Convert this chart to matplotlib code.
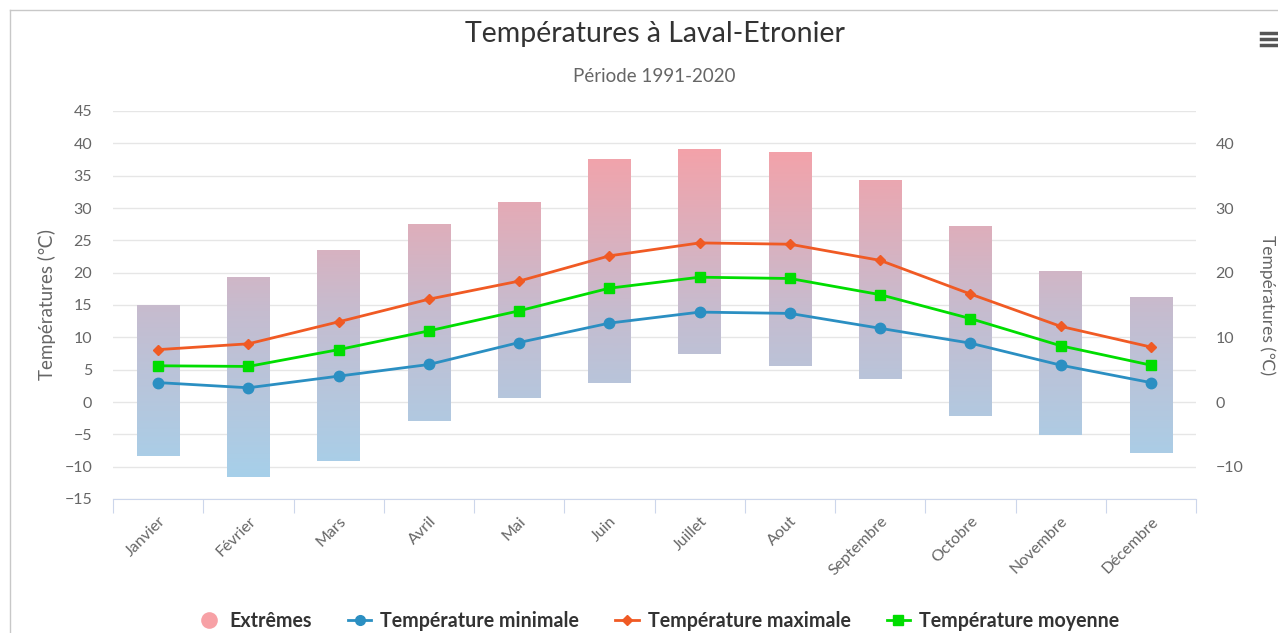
import numpy as np
import matplotlib
matplotlib.use('Agg')
import matplotlib.pyplot as plt
from matplotlib.colors import LinearSegmentedColormap
from matplotlib.lines import Line2D

months = ['Janvier', 'Février', 'Mars', 'Avril', 'Mai', 'Juin', 'Juillet',
          'Aout', 'Septembre', 'Octobre', 'Novembre', 'Décembre']
ext_min = [-8.3, -11.6, -9.2, -3.0, 0.6, 3.0, 7.4, 5.5, 3.5, -2.1, -5.1, -7.9]
ext_max = [15.0, 19.4, 23.5, 27.5, 31.0, 37.6, 39.1, 38.7, 34.3, 27.2, 20.3, 16.2]
t_min = [3.0, 2.2, 4.0, 5.8, 9.2, 12.2, 13.9, 13.7, 11.4, 9.1, 5.7, 3.0]
t_max = [8.1, 9.0, 12.4, 15.9, 18.7, 22.6, 24.6, 24.4, 21.9, 16.7, 11.7, 8.5]
t_mean = [5.6, 5.5, 8.1, 11.0, 14.1, 17.6, 19.3, 19.1, 16.6, 12.9, 8.7, 5.7]

plt.rcParams['font.family'] = ['Lato', 'DejaVu Sans']

W, H = 1278, 633
fig = plt.figure(figsize=(W / 100, H / 100), dpi=100)
L, R, T, B = 113, 1196, 111, 499
ax = fig.add_axes([L / W, 1 - B / H, (R - L) / W, (B - T) / H])

x = np.arange(len(months))

# gradient bars (columnrange)
cmap = LinearSegmentedColormap.from_list('ext', ['#a6d0ea', '#c6bccf', '#f5a1a8'])
bars = ax.bar(x, np.array(ext_max) - np.array(ext_min), bottom=ext_min, width=0.47,
              facecolor='none', edgecolor='none', zorder=2)
yy = np.linspace(-15, 45, 400).reshape(-1, 1)
for b in bars:
    im = ax.imshow(yy, extent=[-0.5, 11.5, -15, 45], origin='lower', aspect='auto',
                   cmap=cmap, vmin=-12, vmax=40, zorder=2)
    im.set_clip_path(b)

ax.plot(x, t_min, color='#2b8fc2', lw=2, marker='o', ms=7.5, zorder=4)
ax.plot(x, t_max, color='#f05a24', lw=2, marker='D', ms=5.5, zorder=4)
ax.plot(x, t_mean, color='#00dd00', lw=2, marker='s', ms=7, zorder=4)

ax.set_xlim(-0.5, 11.5)
ax.set_ylim(-15, 45)
ax.set_yticks(range(-15, 50, 5))
ax.grid(axis='y', color='#e6e6e6', lw=1)
ax.set_axisbelow(True)
for s in ['top', 'left', 'right']:
    ax.spines[s].set_visible(False)
ax.spines['bottom'].set_color('#ccd6eb')
ax.set_xticks(np.arange(-0.5, 12, 1))
ax.set_xticklabels([])
ax.set_xticks(x, minor=True)
ax.set_xticklabels(months, minor=True, rotation=45, ha='right', va='top',
                   rotation_mode='anchor', color='#666666', fontsize=11.5)
ax.tick_params(axis='x', which='major', length=10, color='#ccd6eb')
ax.tick_params(axis='x', which='minor', length=0, pad=11)
ax.tick_params(axis='y', length=0, labelcolor='#666666', labelsize=11.5, pad=15)
ax.set_ylabel('Températures (℃)', color='#666666', fontsize=13.5, labelpad=6,
              family=['Lato', 'DejaVu Sans'])

ax2 = ax.twinx()
ax2.set_ylim(-15, 45)
ax2.set_yticks(range(-10, 50, 10))
for s in ['top', 'left', 'right', 'bottom']:
    ax2.spines[s].set_visible(False)
ax2.tick_params(axis='y', length=0, labelcolor='#666666', labelsize=11.5, pad=14)
fig.text(1267 / W, 1 - 305 / H, 'Températures (℃)', color='#666666', fontsize=12.5,
         rotation=270, ha='center', va='center', family=['Lato', 'DejaVu Sans'])

fig.text(0.5 * (L + R) / W, 1 - 34 / H, 'Températures à Laval-Etronier',
         ha='center', va='center', fontsize=20.5, color='#333333')
fig.text(0.5 * (L + R) / W, 1 - 77 / H, 'Période 1991-2020', ha='center', va='center',
         fontsize=13.5, color='#666666')

handles = [
    Line2D([], [], ls='', marker='o', ms=12, markerfacecolor='#f7a1a6', markeredgecolor='none'),
    Line2D([], [], color='#2b8fc2', lw=2, marker='o', ms=7),
    Line2D([], [], color='#f05a24', lw=2, marker='D', ms=5),
    Line2D([], [], color='#00dd00', lw=2, marker='s', ms=6.5),
]
labels = ['Extrêmes', 'Température minimale', 'Température maximale', 'Température moyenne']
fig.legend(handles, labels, loc='center', bbox_to_anchor=(658 / W, 1 - 621 / H), ncol=4,
           frameon=False, handlelength=1.2, handletextpad=0.45, columnspacing=1.85,
           prop={'weight': 'bold', 'size': 14.1}, labelcolor='#333333')

# border and menu icon
fig.add_artist(Line2D([10 / W, 1], [1 - 10 / H, 1 - 10 / H], color='#c8c8c8', lw=1))
fig.add_artist(Line2D([10 / W, 10 / W], [0, 1 - 10 / H], color='#c8c8c8', lw=1))
for yp in (33, 39, 45):
    fig.add_artist(Line2D([1261 / W, 1278 / W], [1 - yp / H, 1 - yp / H], color='#555555', lw=2.5))

fig.savefig('out.png', dpi=100)
